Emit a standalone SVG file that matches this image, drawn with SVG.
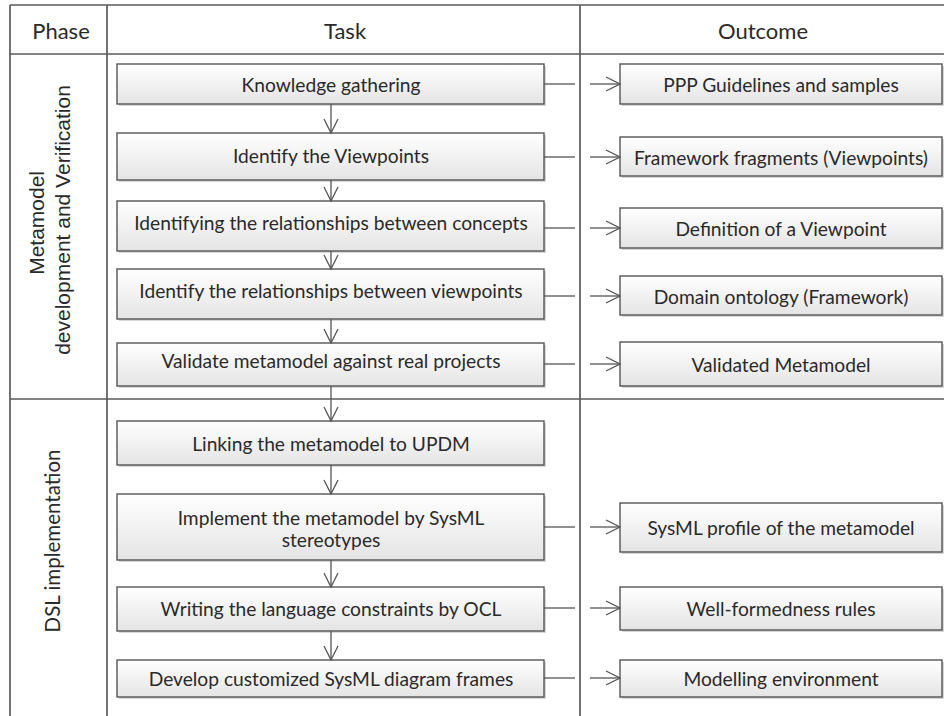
<svg xmlns="http://www.w3.org/2000/svg" width="944" height="716" viewBox="0 0 944 716">
  <defs>
    <linearGradient id="boxFill" x1="0" y1="0" x2="0" y2="1">
      <stop offset="0" stop-color="#ffffff"/>
      <stop offset="1" stop-color="#e4e4e4"/>
    </linearGradient>
    <marker id="openArrow" viewBox="0 0 16 16" refX="15" refY="8" markerWidth="16" markerHeight="16" markerUnits="userSpaceOnUse" orient="auto">
      <path d="M1,1 L15,8 L1,15" fill="none" stroke="#555" stroke-width="1.3"/>
    </marker>
  </defs>
  <style>
    .grid { stroke: #5a5a5a; stroke-width: 1.7; fill: none; }
    .box { fill: url(#boxFill); stroke: #555; stroke-width: 1.4; }
    .shadow { fill: #d6d6d6; }
    .label { font-family: Lato, "Open Sans", sans-serif; font-size: 19.2px; fill: #2a2a2a; text-anchor: middle; dominant-baseline: central; }
    .head { font-family: Lato, "Open Sans", sans-serif; font-size: 22px; fill: #2a2a2a; text-anchor: middle; dominant-baseline: central; }
    .phase1 { font-family: "Liberation Sans", Arial, sans-serif; font-size: 21px; fill: #2a2a2a; text-anchor: middle; }
    .phase2 { font-family: Lato, "Open Sans", sans-serif; font-size: 20.5px; fill: #2a2a2a; text-anchor: middle; dominant-baseline: central; }
    .link { stroke: #555; stroke-width: 1.3; fill: none; }
  </style>
  <rect width="944" height="716" fill="#ffffff"/>

  <!-- table frame -->
  <g id="table">
    <line class="grid" x1="10" y1="5" x2="944" y2="5"/>
    <line class="grid" x1="10" y1="54" x2="944" y2="54"/>
    <line class="grid" x1="10" y1="399" x2="944" y2="399"/>
    <line class="grid" x1="10" y1="5" x2="10" y2="716"/>
    <line class="grid" x1="107" y1="5" x2="107" y2="716"/>
    <line class="grid" x1="580" y1="5" x2="580" y2="716"/>
    <text class="head" x="61" y="30">Phase</text>
    <text class="head" x="345" y="30">Task</text>
    <text class="head" x="763" y="30">Outcome</text>
  </g>

  <!-- phase labels -->
  <g id="phase-metamodel">
    <text class="phase1" transform="translate(50,220) rotate(-90)">
      <tspan x="0" y="-6">Metamodel</tspan>
      <tspan x="0" y="20">development and Verification</tspan>
    </text>
  </g>
  <g id="phase-dsl">
    <text class="phase2" transform="translate(52,541) rotate(-90)" x="0" y="0">DSL implementation</text>
  </g>

  <!-- task nodes -->
  <g id="task-knowledge">
    <rect class="shadow" x="119" y="66" width="427" height="40"/>
    <rect class="box" x="117" y="64" width="427" height="40"/>
    <text class="label" x="331" y="84">Knowledge gathering</text>
  </g>
  <g id="task-viewpoints">
    <rect class="shadow" x="119" y="135" width="427" height="47"/>
    <rect class="box" x="117" y="133" width="427" height="47"/>
    <text class="label" x="331" y="155">Identify the Viewpoints</text>
  </g>
  <g id="task-concepts">
    <rect class="shadow" x="119" y="203" width="427" height="50"/>
    <rect class="box" x="117" y="201" width="427" height="50"/>
    <text class="label" x="331" y="222">Identifying the relationships between concepts</text>
  </g>
  <g id="task-relviewpoints">
    <rect class="shadow" x="119" y="271" width="427" height="50"/>
    <rect class="box" x="117" y="269" width="427" height="50"/>
    <text class="label" x="331" y="290">Identify the relationships between viewpoints</text>
  </g>
  <g id="task-validate">
    <rect class="shadow" x="119" y="345" width="427" height="43"/>
    <rect class="box" x="117" y="343" width="427" height="43"/>
    <text class="label" x="331" y="360">Validate metamodel against real projects</text>
  </g>
  <g id="task-updm">
    <rect class="shadow" x="119" y="423" width="427" height="44"/>
    <rect class="box" x="117" y="421" width="427" height="44"/>
    <text class="label" x="331" y="443">Linking the metamodel to UPDM</text>
  </g>
  <g id="task-stereotypes">
    <rect class="shadow" x="119" y="496" width="427" height="66"/>
    <rect class="box" x="117" y="494" width="427" height="66"/>
    <text class="label" x="331" y="517">Implement the metamodel by SysML</text>
    <text class="label" x="331" y="539">stereotypes</text>
  </g>
  <g id="task-ocl">
    <rect class="shadow" x="119" y="589" width="427" height="44"/>
    <rect class="box" x="117" y="587" width="427" height="44"/>
    <text class="label" x="331" y="608">Writing the language constraints by OCL</text>
  </g>
  <g id="task-frames">
    <rect class="shadow" x="119" y="662" width="427" height="37"/>
    <rect class="box" x="117" y="660" width="427" height="37"/>
    <text class="label" x="331" y="678">Develop customized SysML diagram frames</text>
  </g>

  <!-- outcome nodes -->
  <g id="out-guidelines">
    <rect class="shadow" x="622" y="66" width="322" height="40"/>
    <rect class="box" x="620" y="64" width="322" height="40"/>
    <text class="label" x="781" y="84">PPP Guidelines and samples</text>
  </g>
  <g id="out-fragments">
    <rect class="shadow" x="622" y="139" width="322" height="39"/>
    <rect class="box" x="620" y="137" width="322" height="39"/>
    <text class="label" x="781" y="157">Framework fragments (Viewpoints)</text>
  </g>
  <g id="out-definition">
    <rect class="shadow" x="622" y="210" width="322" height="40"/>
    <rect class="box" x="620" y="208" width="322" height="40"/>
    <text class="label" x="781" y="228">Definition of a Viewpoint</text>
  </g>
  <g id="out-ontology">
    <rect class="shadow" x="622" y="278" width="322" height="39"/>
    <rect class="box" x="620" y="276" width="322" height="39"/>
    <text class="label" x="781" y="296">Domain ontology (Framework)</text>
  </g>
  <g id="out-validated">
    <rect class="shadow" x="622" y="344" width="322" height="44"/>
    <rect class="box" x="620" y="342" width="322" height="44"/>
    <text class="label" x="781" y="364">Validated Metamodel</text>
  </g>
  <g id="out-profile">
    <rect class="shadow" x="622" y="505" width="322" height="49"/>
    <rect class="box" x="620" y="503" width="322" height="49"/>
    <text class="label" x="781" y="527">SysML profile of the metamodel</text>
  </g>
  <g id="out-rules">
    <rect class="shadow" x="622" y="589" width="322" height="43"/>
    <rect class="box" x="620" y="587" width="322" height="43"/>
    <text class="label" x="781" y="608">Well-formedness rules</text>
  </g>
  <g id="out-environment">
    <rect class="shadow" x="622" y="662" width="322" height="37"/>
    <rect class="box" x="620" y="660" width="322" height="37"/>
    <text class="label" x="781" y="678">Modelling environment</text>
  </g>

  <!-- connectors -->
  <g id="connectors">
    <!-- task sequence -->
    <line class="link" x1="331" y1="104" x2="331" y2="133" marker-end="url(#openArrow)"/>
    <line class="link" x1="331" y1="180" x2="331" y2="201" marker-end="url(#openArrow)"/>
    <line class="link" x1="331" y1="251" x2="331" y2="269" marker-end="url(#openArrow)"/>
    <line class="link" x1="331" y1="319" x2="331" y2="343" marker-end="url(#openArrow)"/>
    <line class="link" x1="331" y1="386" x2="331" y2="421" marker-end="url(#openArrow)"/>
    <line class="link" x1="331" y1="465" x2="331" y2="494" marker-end="url(#openArrow)"/>
    <line class="link" x1="331" y1="560" x2="331" y2="587" marker-end="url(#openArrow)"/>
    <line class="link" x1="331" y1="631" x2="331" y2="660" marker-end="url(#openArrow)"/>
    <!-- task to outcome -->
    <line class="link" x1="544" y1="84" x2="575" y2="84"/>
    <line class="link" x1="590" y1="84" x2="620" y2="84" marker-end="url(#openArrow)"/>
    <line class="link" x1="544" y1="157" x2="575" y2="157"/>
    <line class="link" x1="590" y1="157" x2="620" y2="157" marker-end="url(#openArrow)"/>
    <line class="link" x1="544" y1="228" x2="575" y2="228"/>
    <line class="link" x1="590" y1="228" x2="620" y2="228" marker-end="url(#openArrow)"/>
    <line class="link" x1="544" y1="296" x2="575" y2="296"/>
    <line class="link" x1="590" y1="296" x2="620" y2="296" marker-end="url(#openArrow)"/>
    <line class="link" x1="544" y1="364" x2="575" y2="364"/>
    <line class="link" x1="590" y1="364" x2="620" y2="364" marker-end="url(#openArrow)"/>
    <line class="link" x1="544" y1="527" x2="575" y2="527"/>
    <line class="link" x1="590" y1="527" x2="620" y2="527" marker-end="url(#openArrow)"/>
    <line class="link" x1="544" y1="608" x2="575" y2="608"/>
    <line class="link" x1="590" y1="608" x2="620" y2="608" marker-end="url(#openArrow)"/>
    <line class="link" x1="544" y1="678" x2="575" y2="678"/>
    <line class="link" x1="590" y1="678" x2="620" y2="678" marker-end="url(#openArrow)"/>
  </g>
</svg>
